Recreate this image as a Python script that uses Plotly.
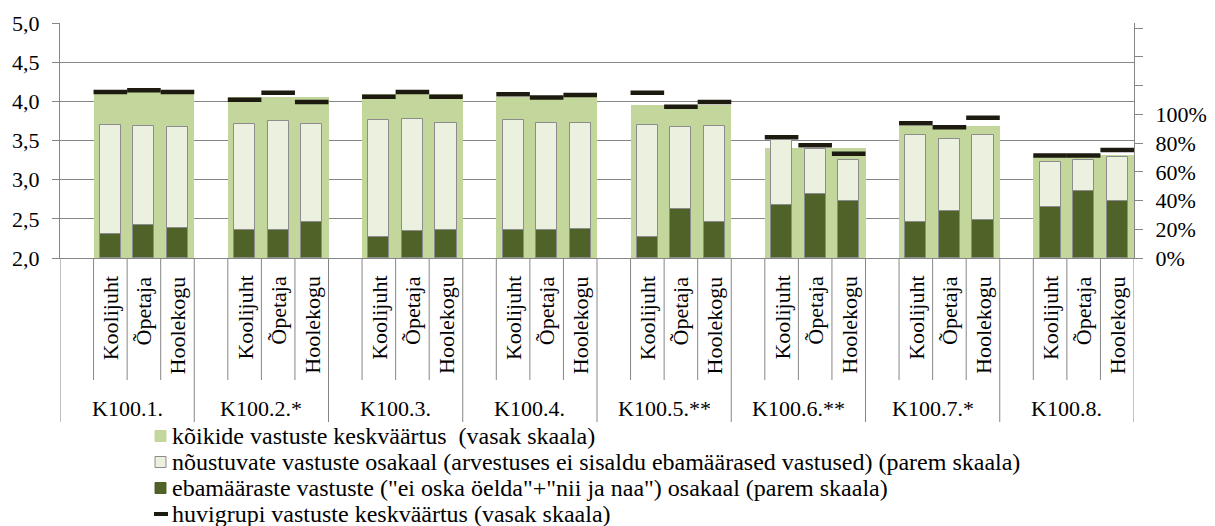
import plotly.graph_objects as go

groups = ["K100.1.", "K100.2.*", "K100.3.", "K100.4.", "K100.5.**", "K100.6.**", "K100.7.*", "K100.8."]
subgroups = ["Koolijuht", "Õpetaja", "Hoolekogu"]

# kõikide vastuste keskväärtus (vasak skaala)
all_mean = [4.12, 4.06, 4.09, 4.05, 3.95, 3.41, 3.68, 3.31]

# huvigrupi keskväärtus, per group: Koolijuht, Õpetaja, Hoolekogu
group_mean = [
    [4.12, 4.14, 4.12],
    [4.02, 4.11, 3.99],
    [4.06, 4.12, 4.06],
    [4.09, 4.05, 4.08],
    [4.11, 3.93, 3.99],
    [3.54, 3.44, 3.33],
    [3.72, 3.67, 3.79],
    [3.31, 3.31, 3.38],
]

# ebamääraste vastuste osakaal (parem skaala)
vague = [
    [0.165, 0.228, 0.211],
    [0.197, 0.197, 0.253],
    [0.148, 0.190, 0.197],
    [0.197, 0.197, 0.204],
    [0.144, 0.343, 0.253],
    [0.367, 0.443, 0.399],
    [0.253, 0.329, 0.267],
    [0.357, 0.466, 0.399],
]

# nõustuvate vastuste osakaal (parem skaala)
agree = [
    [0.763, 0.693, 0.703],
    [0.738, 0.754, 0.682],
    [0.812, 0.777, 0.745],
    [0.761, 0.745, 0.738],
    [0.784, 0.571, 0.668],
    [0.456, 0.314, 0.281],
    [0.605, 0.501, 0.591],
    [0.313, 0.214, 0.304],
]

right_ticks = [0, 0.2, 0.4, 0.6, 0.8, 1.0, 1.2, 1.4, 1.6]
right_labels = ["0%", "20%", "40%", "60%", "80%", "100%", "", "", ""]

legend_names = [
    "kõikide vastuste keskväärtus  (vasak skaala)",
    "nõustuvate vastuste osakaal (arvestuses ei sisaldu ebamäärased vastused) (parem skaala)",
    'ebamääraste vastuste ("ei oska öelda"+"nii ja naa") osakaal (parem skaala)',
    "huvigrupi vastuste keskväärtus (vasak skaala)",
]

FONT = "serif"
GRID = "#868686"
C_ALL = "#c3d69b"
C_AGREE = "#ebf1de"
C_VAGUE = "#4f6228"
C_DASH = "#1d1b10"
EDGE = "#8c8c8c"

# the page body adds 8px around the figure, so the figure is 8px smaller
OFF = 8
W, H = 1215 - OFF, 526 - OFF
L, R, T, B = 60 - OFF, 81, 23 - OFF, 268
PW, PH = W - L - R, H - T - B


# helpers: page pixel -> paper fraction
def px_x(x):
    return (x - OFF - L) / PW


def px_y(y):
    return (H - B - (y - OFF)) / PH


# each group gets an empty slot followed by the three subgroups
cats = []
for g in groups:
    cats.append(g + "|")
    cats += [g + "|" + s for s in subgroups]

sub_x, sub_vague, sub_agree, sub_mean = [], [], [], []
for gi, g in enumerate(groups):
    for si, s in enumerate(subgroups):
        sub_x.append(g + "|" + s)
        sub_vague.append(vague[gi][si])
        sub_agree.append(agree[gi][si])
        sub_mean.append(group_mean[gi][si])

fig = go.Figure()

fig.add_trace(go.Bar(
    x=[g + "|" + subgroups[1] for g in groups], y=[m - 2 for m in all_mean], base=2,
    width=3, marker=dict(color=C_ALL, line=dict(width=0)),
    name=legend_names[0], yaxis="y", showlegend=False,
))
fig.add_trace(go.Bar(
    x=sub_x, y=sub_agree, base=sub_vague, width=0.63,
    marker=dict(color=C_AGREE, line=dict(color=EDGE, width=1)),
    name=legend_names[1], yaxis="y2", showlegend=False,
))
fig.add_trace(go.Bar(
    x=sub_x, y=sub_vague, width=0.63,
    marker=dict(color=C_VAGUE, line=dict(color=EDGE, width=1)),
    name=legend_names[2], yaxis="y2", showlegend=False,
))
fig.add_trace(go.Scatter(
    x=sub_x, y=sub_mean, mode="markers",
    marker=dict(symbol="line-ew", size=24, line=dict(color=C_DASH, width=4.5)),
    name=legend_names[3], yaxis="y", showlegend=False,
))

# category table below the axis
shapes = []
annotations = []
for gi, g in enumerate(groups):
    base = 4 * gi
    shapes.append(dict(type="line", xref="x", yref="paper", x0=base - 0.5, x1=base - 0.5,
                       y0=0, y1=px_y(422), line=dict(color=GRID, width=1)))
    for k in range(3):
        shapes.append(dict(type="line", xref="x", yref="paper", x0=base + 0.5 + k, x1=base + 0.5 + k,
                           y0=0, y1=px_y(380), line=dict(color=GRID, width=1)))
        annotations.append(dict(x=g + "|" + subgroups[k], xref="x", y=px_y(274), yref="paper",
                                text=subgroups[k], textangle=-90, showarrow=False,
                                xanchor="center", yanchor="top"))
    annotations.append(dict(x=base + 1.5, xref="x", y=px_y(408), yref="paper", text=g,
                            showarrow=False, xanchor="center", yanchor="middle"))
shapes.append(dict(type="line", xref="x", yref="paper", x0=len(cats) - 0.5, x1=len(cats) - 0.5,
                   y0=0, y1=px_y(422), line=dict(color=GRID, width=1)))

# legend, drawn by hand so the rows sit as tight as in the original
rows = [436, 462, 488, 514]
keys = [(C_ALL, C_ALL), (C_AGREE, EDGE), (C_VAGUE, C_VAGUE)]
for (fill, edge), yc in zip(keys, rows[:3]):
    shapes.append(dict(type="rect", xref="paper", yref="paper",
                       x0=px_x(155), x1=px_x(166), y0=px_y(yc - 5.5), y1=px_y(yc + 5.5),
                       fillcolor=fill, line=dict(color=edge, width=1)))
shapes.append(dict(type="line", xref="paper", yref="paper", x0=px_x(154), x1=px_x(168),
                   y0=px_y(rows[3]), y1=px_y(rows[3]), line=dict(color=C_DASH, width=4)))
for name, yc in zip(legend_names, rows):
    annotations.append(dict(x=px_x(170), xref="paper", y=px_y(yc), yref="paper", text=name,
                            showarrow=False, xanchor="left", yanchor="middle",
                            font=dict(size=24)))

fig.update_layout(
    width=W, height=H,
    margin=dict(l=L, r=R, t=T, b=B, autoexpand=False),
    paper_bgcolor="white", plot_bgcolor="white",
    font=dict(family=FONT, size=22, color="black"),
    separators=", ",
    barmode="overlay",
    bargap=0,
    showlegend=False,
    xaxis=dict(type="category", categoryorder="array", categoryarray=cats,
               range=[-0.5, len(cats) - 0.5], showticklabels=False, showgrid=False,
               showline=True, linecolor=GRID, ticks="", zeroline=False),
    yaxis=dict(range=[2, 5], dtick=0.5, tickformat=".1f", showgrid=True, gridcolor=GRID,
               showline=True, linecolor=GRID, ticks="outside", ticklen=7, tickcolor=GRID,
               ticklabelstandoff=8, zeroline=False),
    yaxis2=dict(overlaying="y", side="right", range=[0, 1.636], tickvals=right_ticks,
                ticktext=right_labels, showgrid=False, showline=True, linecolor=GRID,
                ticks="outside", ticklen=8, tickcolor=GRID, ticklabelstandoff=8,
                zeroline=False),
    shapes=shapes,
    annotations=annotations,
)

fig.write_html("out.html")
